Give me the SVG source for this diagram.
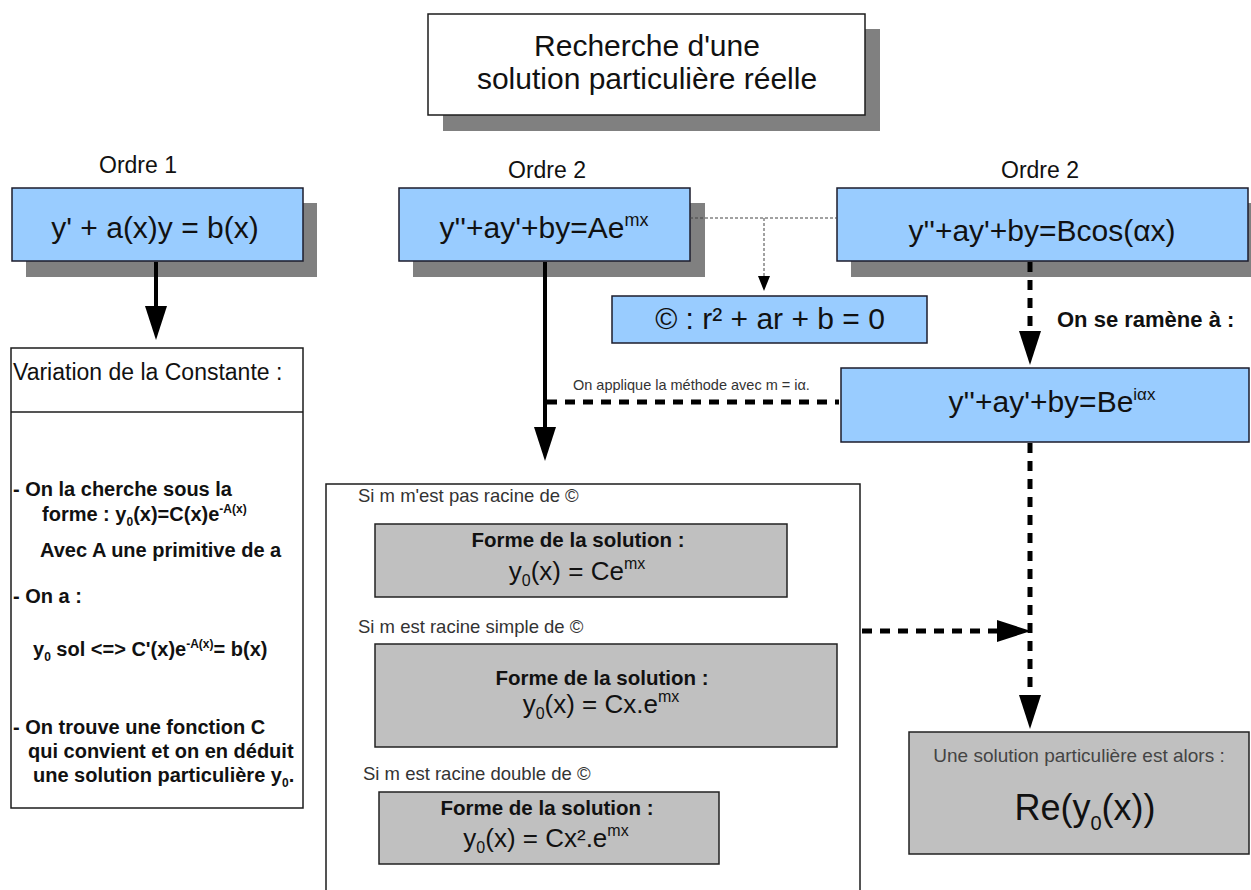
<svg xmlns="http://www.w3.org/2000/svg" width="1251" height="890" viewBox="0 0 1251 890">
<defs>
<style>
text{font-family:"Liberation Sans",Arial,sans-serif;fill:#111}
.shadow{fill:#808080}
.blue{fill:#99ccff;stroke:#1c1c2c;stroke-width:1.5}
.white{fill:#fff;stroke:#1c1c1c;stroke-width:1.5}
.gray{fill:#c0c0c0;stroke:#222;stroke-width:1.5}
.f30{font-size:30px}
.lbl{font-size:23px}
.body{font-size:20px;font-weight:bold}
.si{font-size:18.5px;fill:#333}
.forme{font-size:20.5px;font-weight:bold}
.sol{font-size:26px}
.solid{stroke:#000;stroke-width:4;fill:none}
.dash{stroke:#000;stroke-width:5;fill:none;stroke-dasharray:10 8}
.dot{stroke:#444;stroke-width:1;fill:none;stroke-dasharray:3 2}
</style>
<marker id="big" markerUnits="userSpaceOnUse" markerWidth="36" markerHeight="24" refX="0" refY="12" orient="auto" overflow="visible">
<path d="M0,1 L34,12 L0,23 z" fill="#000"/>
</marker>
<marker id="small" markerUnits="userSpaceOnUse" markerWidth="16" markerHeight="14" refX="0" refY="7" orient="auto" overflow="visible">
<path d="M0,1 L15,7 L0,13 z" fill="#000"/>
</marker>
</defs>
<rect width="1251" height="890" fill="#fff"/>

<g id="title">
<rect class="shadow" x="443" y="29" width="437" height="102"/>
<rect class="white" x="428" y="14" width="437" height="101"/>
<text x="647" y="56" font-size="30" text-anchor="middle">Recherche d'une</text>
<text x="647" y="89" font-size="30" text-anchor="middle">solution particulière réelle</text>
</g>

<g id="labels">
<text class="lbl" x="138" y="173" text-anchor="middle">Ordre 1</text>
<text class="lbl" x="547" y="178" text-anchor="middle">Ordre 2</text>
<text class="lbl" x="1040" y="178" text-anchor="middle">Ordre 2</text>
</g>

<g id="ordre1">
<rect class="shadow" x="26" y="203" width="291" height="74"/>
<rect class="blue" x="12" y="188" width="291" height="73"/>
<text class="f30" x="155" y="238" text-anchor="middle">y' + a(x)y = b(x)</text>
</g>

<g id="ordre2a">
<rect class="shadow" x="413" y="203" width="292" height="74"/>
<rect class="blue" x="399" y="188" width="291" height="73"/>
<text class="f30" x="544" y="238" text-anchor="middle">y''+ay'+by=Ae<tspan font-size="18" dy="-12">mx</tspan></text>
</g>

<g id="ordre2b">
<rect class="shadow" x="851" y="203" width="420" height="74"/>
<rect class="blue" x="837" y="188" width="411" height="73"/>
<text class="f30" x="1042" y="241" text-anchor="middle">y''+ay'+by=Bcos(αx)</text>
</g>

<g id="carac">
<rect class="blue" x="612" y="296" width="315" height="47"/>
<text class="f30" x="770" y="329" text-anchor="middle">© : r² + ar + b = 0</text>
</g>

<g id="complexe">
<rect class="blue" x="841" y="368" width="408" height="74"/>
<text class="f30" x="1052" y="412" text-anchor="middle">y''+ay'+by=Be<tspan font-size="17" dy="-12">iαx</tspan></text>
</g>

<g id="variation">
<rect class="white" x="11" y="348" width="292" height="460"/>
<line x1="11" y1="412" x2="303" y2="412" stroke="#1c1c1c" stroke-width="1.5"/>
<text x="13" y="380" font-size="23">Variation de la Constante :</text>
<text class="body" x="13" y="496">- On la cherche sous la</text>
<text class="body" x="42" y="521">forme : y<tspan font-size="12" dy="5">0</tspan><tspan dy="-5">(x)=C(x)e</tspan><tspan font-size="12" dy="-8">-A(x)</tspan></text>
<text class="body" x="40" y="557">Avec A une primitive de a</text>
<text class="body" x="13" y="603">- On a :</text>
<text class="body" x="33" y="656">y<tspan font-size="12" dy="5">0</tspan><tspan dy="-5"> sol &lt;=&gt; C'(x)e</tspan><tspan font-size="12" dy="-8">-A(x)</tspan><tspan dy="8">= b(x)</tspan></text>
<text class="body" x="13" y="734">- On trouve une fonction C</text>
<text class="body" x="28" y="758">qui convient et on en déduit</text>
<text class="body" x="33" y="782">une solution particulière y<tspan font-size="12" dy="5">0</tspan><tspan dy="-5">.</tspan></text>
</g>

<g id="cas">
<rect class="white" x="326" y="484" width="534" height="420"/>
<text class="si" x="358" y="502">Si m m'est pas racine de ©</text>
<text class="si" x="358" y="633">Si m est racine simple de ©</text>
<text class="si" x="363" y="780">Si m est racine double de ©</text>
</g>

<g id="cas1">
<rect class="gray" x="375" y="524" width="412" height="73"/>
<text class="forme" x="578" y="547" text-anchor="middle">Forme de la solution :</text>
<text class="sol" x="577" y="580" text-anchor="middle">y<tspan font-size="16" dy="6">0</tspan><tspan dy="-6">(x) = Ce</tspan><tspan font-size="16" dy="-11">mx</tspan></text>
</g>

<g id="cas2">
<rect class="gray" x="375" y="644" width="462" height="103"/>
<text class="forme" x="602" y="685" text-anchor="middle">Forme de la solution :</text>
<text class="sol" x="601" y="713" text-anchor="middle">y<tspan font-size="16" dy="6">0</tspan><tspan dy="-6">(x) = Cx.e</tspan><tspan font-size="16" dy="-11">mx</tspan></text>
</g>

<g id="cas3">
<rect class="gray" x="379" y="792" width="340" height="72"/>
<text class="forme" x="547" y="815" text-anchor="middle">Forme de la solution :</text>
<text class="sol" x="546" y="847" text-anchor="middle">y<tspan font-size="16" dy="6">0</tspan><tspan dy="-6">(x) = Cx².e</tspan><tspan font-size="16" dy="-11">mx</tspan></text>
</g>

<g id="resultat">
<rect class="gray" x="909" y="732" width="340" height="122"/>
<text x="1079" y="762" font-size="19" style="fill:#444" text-anchor="middle">Une solution particulière est alors :</text>
<text x="1085" y="820" font-size="36" text-anchor="middle">Re(y<tspan font-size="20" dy="10">0</tspan><tspan dy="-10">(x))</tspan></text>
</g>

<g id="connectors">
<line class="solid" x1="156" y1="262" x2="156" y2="306" marker-end="url(#big)"/>
<line class="solid" x1="545" y1="262" x2="545" y2="427" marker-end="url(#big)"/>
<polyline class="dot" points="690,218 837,218"/>
<line class="dot" x1="764" y1="218" x2="764" y2="276" marker-end="url(#small)"/>
<line class="dash" x1="1030" y1="262" x2="1030" y2="331" marker-end="url(#big)"/>
<line class="dash" x1="547" y1="402" x2="839" y2="402"/>
<line class="dash" x1="1030" y1="443" x2="1030" y2="695" marker-end="url(#big)"/>
<line class="dash" x1="862" y1="631" x2="997" y2="631" marker-end="url(#big)"/>
<text x="573" y="390" font-size="14.5" style="fill:#333">On applique la méthode avec m = iα.</text>
<text x="1057" y="327" font-size="22" font-weight="bold">On se ramène à :</text>
</g>
</svg>
